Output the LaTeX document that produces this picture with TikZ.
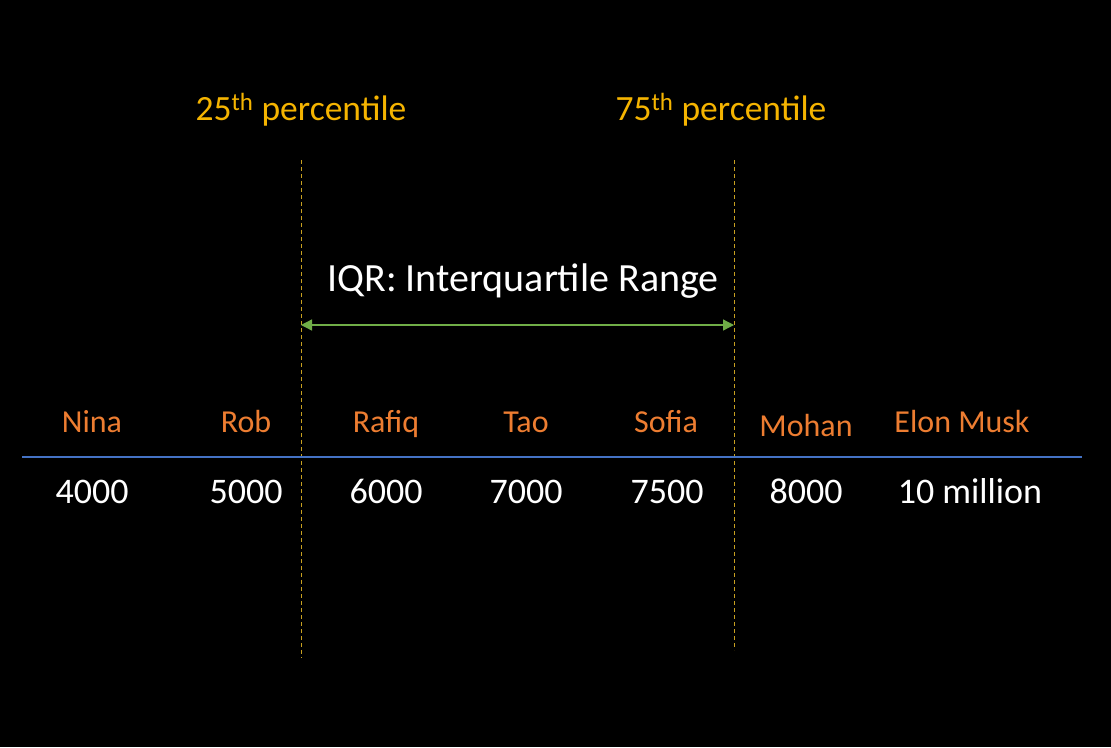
\documentclass[tikz,border=0pt]{standalone}
\usepackage{fontspec}
\setmainfont{Carlito}
\usetikzlibrary{arrows.meta}
\definecolor{nameorange}{HTML}{ED7D31}
\definecolor{pctgold}{HTML}{F5B400}
\definecolor{axisblue}{HTML}{4472C4}
\definecolor{iqrgreen}{HTML}{70AD47}
\definecolor{dashcol}{HTML}{C8A020}
\tikzset{
  namelbl/.style={text=nameorange, font=\fontsize{32}{35}\selectfont, anchor=base, inner sep=0pt},
  numlbl/.style={text=white, font=\fontsize{36}{40}\selectfont, anchor=base, inner sep=0pt},
  pctlbl/.style={text=pctgold, font=\fontsize{35.5}{39}\selectfont, anchor=base, inner sep=0pt},
  iqrlbl/.style={text=white, font=\fontsize{40}{44}\selectfont, anchor=base, inner sep=0pt},
  qline/.style={draw=dashcol, line width=0.8pt, dash pattern=on 4pt off 3pt},
}
\begin{document}
\begin{tikzpicture}[x=1pt,y=-1pt]
\fill[black] (0,0) rectangle (1111,747);
\useasboundingbox (0,0) rectangle (1111,747);
% percentile labels
\node[pctlbl] (p25) at (301,120) {25\textsuperscript{th} percentile};
\node[pctlbl] (p75) at (721,120) {75\textsuperscript{th} percentile};
% dashed quartile lines
\coordinate (q1t) at (301,160); \coordinate (q1b) at (301,658);
\coordinate (q3t) at (734,160); \coordinate (q3b) at (734,650);
\draw[qline] (q1t) -- (q1b);
\draw[qline] (q3t) -- (q3b);
% IQR
\node[iqrlbl] (iqr) at (523,291) {IQR: Interquartile Range};
\coordinate (a1) at (301,325); \coordinate (a2) at (734,325);
\draw[iqrgreen, line width=1.3pt, {Triangle[length=11pt,width=11pt]}-{Triangle[length=11pt,width=11pt]}] (a1) -- (a2);
% axis line
\coordinate (ax1) at (22,457); \coordinate (ax2) at (1082,457);
\draw[axisblue, line width=1.4pt] (ax1) -- (ax2);
% names
\node[namelbl] (n1) at (92,432) {Nina};
\node[namelbl] (n2) at (246,432) {Rob};
\node[namelbl] (n3) at (386,432) {Rafiq};
\node[namelbl] (n4) at (526,432) {Tao};
\node[namelbl] (n5) at (666,432) {Sofia};
\node[namelbl] (n6) at (806,436) {Mohan};
\node[namelbl] (n7) at (962,432) {Elon Musk};
% values
\node[numlbl] (v1) at (92,503) {4000};
\node[numlbl] (v2) at (246,503) {5000};
\node[numlbl] (v3) at (386,503) {6000};
\node[numlbl] (v4) at (526,503) {7000};
\node[numlbl] (v5) at (667,503) {7500};
\node[numlbl] (v6) at (806,503) {8000};
\node[numlbl] (v7) at (970,503) {10 million};
\end{tikzpicture}
\end{document}
